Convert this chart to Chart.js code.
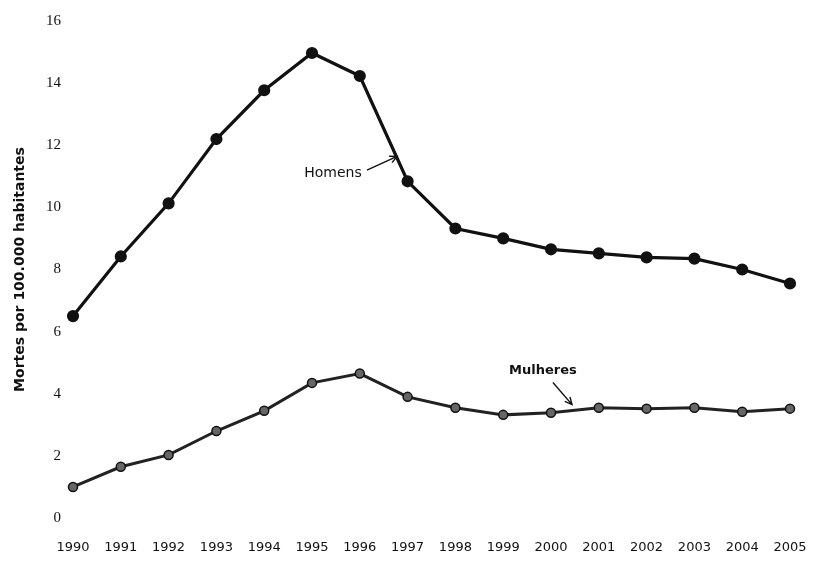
<!DOCTYPE html>
<html>
<head>
<meta charset="utf-8">
<script src="https://cdn.jsdelivr.net/npm/chart.js@4.4.1/dist/chart.umd.min.js"></script>
<style>
  html, body { margin: 0; padding: 0; background: #fff; }
  #wrap { width: 817px; height: 570px; position: relative; }
</style>
</head>
<body>
<div id="wrap"><canvas id="chart"></canvas></div>
<script>
// Mortes por 100.000 habitantes, 1990-2005 (homens x mulheres)
var years    = ['1990','1991','1992','1993','1994','1995','1996','1997','1998','1999','2000','2001','2002','2003','2004','2005'];
var homens   = [6.5, 8.42, 10.13, 12.2, 13.77, 14.97, 14.23, 10.84, 9.32, 9.0, 8.65, 8.52, 8.39, 8.35, 8.0, 7.55];
var mulheres = [1.0, 1.65, 2.03, 2.8, 3.45, 4.35, 4.65, 3.9, 3.55, 3.32, 3.39, 3.55, 3.52, 3.55, 3.42, 3.52];
var yTicks   = [0, 2, 4, 6, 8, 10, 12, 14, 16];

// rótulos com seta (posição em unidades do gráfico: índice do ano, valor)
var notes = [
  { text: 'Homens',   font: '14px "DejaVu Sans"',      tx: 5.44, ty: 11.1, ax0: 6.15, ay0: 11.2, ax1: 6.78, ay1: 11.64 },
  { text: 'Mulheres', font: 'bold 13px "DejaVu Sans"', tx: 9.83, ty: 4.73, ax0: 10.04, ay0: 4.36, ax1: 10.44, ay1: 3.65 }
];

var notesPlugin = {
  id: 'notes',
  afterDatasetsDraw: function(chart) {
    var ctx = chart.ctx, xs = chart.scales.x, ys = chart.scales.y;
    ctx.save();
    ctx.fillStyle = '#111';
    ctx.strokeStyle = '#111';
    ctx.textAlign = 'center';
    ctx.textBaseline = 'middle';
    notes.forEach(function(n) {
      ctx.font = n.font;
      ctx.fillText(n.text, xs.getPixelForValue(n.tx), ys.getPixelForValue(n.ty));
      var x0 = xs.getPixelForValue(n.ax0), y0 = ys.getPixelForValue(n.ay0);
      var x1 = xs.getPixelForValue(n.ax1), y1 = ys.getPixelForValue(n.ay1);
      ctx.lineWidth = 1.4;
      ctx.beginPath();
      ctx.moveTo(x0, y0);
      ctx.lineTo(x1, y1);
      var a = Math.atan2(y1 - y0, x1 - x0), h = 8;
      ctx.moveTo(x1 - h * Math.cos(a - 0.45), y1 - h * Math.sin(a - 0.45));
      ctx.lineTo(x1, y1);
      ctx.lineTo(x1 - h * Math.cos(a + 0.45), y1 - h * Math.sin(a + 0.45));
      ctx.stroke();
    });
    ctx.restore();
  }
};

new Chart(document.getElementById('chart').getContext('2d'), {
  type: 'line',
  data: {
    labels: years,
    datasets: [
      {
        label: 'Homens', data: homens,
        borderColor: '#111', backgroundColor: '#111', borderWidth: 3.2,
        pointRadius: 4.5, pointBackgroundColor: '#111', pointBorderColor: '#111',
        tension: 0, fill: false
      },
      {
        label: 'Mulheres', data: mulheres,
        borderColor: '#222', backgroundColor: '#555', borderWidth: 3,
        pointRadius: 4.5, pointBackgroundColor: '#666', pointBorderColor: '#111', pointBorderWidth: 1.5,
        tension: 0, fill: false
      }
    ]
  },
  options: {
    responsive: true,
    maintainAspectRatio: false,
    animation: false,
    layout: { padding: { top: 10, right: 27, bottom: 0, left: 10 } },
    plugins: { legend: { display: false }, tooltip: { enabled: false } },
    scales: {
      x: {
        offset: false,
        afterFit: function(s) { s.height = 52; s.paddingLeft = 0; s.paddingRight = 0; },
        grid: { display: false, drawTicks: false },
        border: { display: false },
        ticks: { color: '#111', padding: 22, maxRotation: 0, autoSkip: false, font: { family: 'DejaVu Sans', size: 13 } }
      },
      y: {
        min: 0, max: 16,
        afterBuildTicks: function(s) { s.ticks = yTicks.map(function(v) { return { value: v }; }); },
        afterFit: function(s) { s.width = 63; },
        grid: { display: false, drawTicks: false },
        border: { display: false },
        ticks: { color: '#111', padding: 12, font: { family: 'Liberation Serif', size: 15 } },
        title: {
          display: true, text: 'Mortes por 100.000 habitantes', color: '#111',
          font: { family: 'DejaVu Sans', size: 14, weight: 'bold' }, padding: { top: 2, bottom: 0 }
        }
      }
    }
  },
  plugins: [notesPlugin]
});
</script>
</body>
</html>
